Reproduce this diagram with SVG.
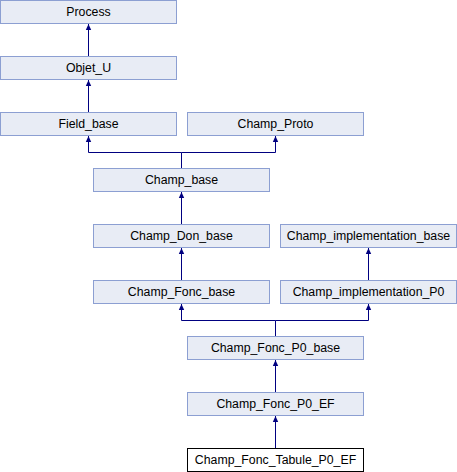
<svg xmlns="http://www.w3.org/2000/svg" width="457" height="472" viewBox="0 0 457 472">
<style>
.n rect{fill:#E8ECF5;stroke:#8C9FD2;stroke-width:1}
.n.cur rect{fill:#FFFFFF;stroke:#000000}
.n text{font-family:"Liberation Sans",Arial,sans-serif;font-size:12.3px;fill:#000;text-anchor:middle}
.e path{fill:none;stroke:#000080;stroke-width:1}
</style>
<defs>
<marker id="arr" markerUnits="userSpaceOnUse" markerWidth="7" markerHeight="7" refX="6" refY="3" orient="auto" overflow="visible">
<path d="M0,0.3 L6,3 L0,5.7 z" fill="#000080"/>
</marker>
</defs>
<rect width="457" height="472" fill="#FFFFFF"/>
<g id="connectors" class="e">
<path d="M88.5,56 V24" marker-end="url(#arr)"/>
<path d="M88.5,112 V80" marker-end="url(#arr)"/>
<path d="M181.5,168 V152.5 H88.5 V136" marker-end="url(#arr)"/>
<path d="M181.5,152.5 H275.5 V136" marker-end="url(#arr)"/>
<path d="M181.5,224 V192" marker-end="url(#arr)"/>
<path d="M181.5,280 V248" marker-end="url(#arr)"/>
<path d="M368.5,280 V248" marker-end="url(#arr)"/>
<path d="M275.5,336 V320.5 H181.5 V304" marker-end="url(#arr)"/>
<path d="M275.5,320.5 H368.5 V304" marker-end="url(#arr)"/>
<path d="M275.5,392 V360" marker-end="url(#arr)"/>
<path d="M275.5,448 V416" marker-end="url(#arr)"/>
</g>
<g id="Process" class="n"><rect x="0.5" y="0.5" width="176" height="23"/><text x="88.5" y="16">Process</text></g>
<g id="Objet_U" class="n"><rect x="0.5" y="56.5" width="176" height="23"/><text x="88.5" y="72">Objet_U</text></g>
<g id="Field_base" class="n"><rect x="0.5" y="112.5" width="176" height="23"/><text x="88.5" y="128">Field_base</text></g>
<g id="Champ_Proto" class="n"><rect x="187.5" y="112.5" width="176" height="23"/><text x="275.5" y="128">Champ_Proto</text></g>
<g id="Champ_base" class="n"><rect x="93.5" y="168.5" width="176" height="23"/><text x="181.5" y="184">Champ_base</text></g>
<g id="Champ_Don_base" class="n"><rect x="93.5" y="224.5" width="176" height="23"/><text x="181.5" y="240">Champ_Don_base</text></g>
<g id="Champ_implementation_base" class="n"><rect x="280.5" y="224.5" width="176" height="23"/><text x="368.5" y="240">Champ_implementation_base</text></g>
<g id="Champ_Fonc_base" class="n"><rect x="93.5" y="280.5" width="176" height="23"/><text x="181.5" y="296">Champ_Fonc_base</text></g>
<g id="Champ_implementation_P0" class="n"><rect x="280.5" y="280.5" width="176" height="23"/><text x="368.5" y="296">Champ_implementation_P0</text></g>
<g id="Champ_Fonc_P0_base" class="n"><rect x="187.5" y="336.5" width="176" height="23"/><text x="275.5" y="352">Champ_Fonc_P0_base</text></g>
<g id="Champ_Fonc_P0_EF" class="n"><rect x="187.5" y="392.5" width="176" height="23"/><text x="275.5" y="408">Champ_Fonc_P0_EF</text></g>
<g id="Champ_Fonc_Tabule_P0_EF" class="n cur"><rect x="187.5" y="448.5" width="176" height="23"/><text x="275.5" y="464">Champ_Fonc_Tabule_P0_EF</text></g>
</svg>
